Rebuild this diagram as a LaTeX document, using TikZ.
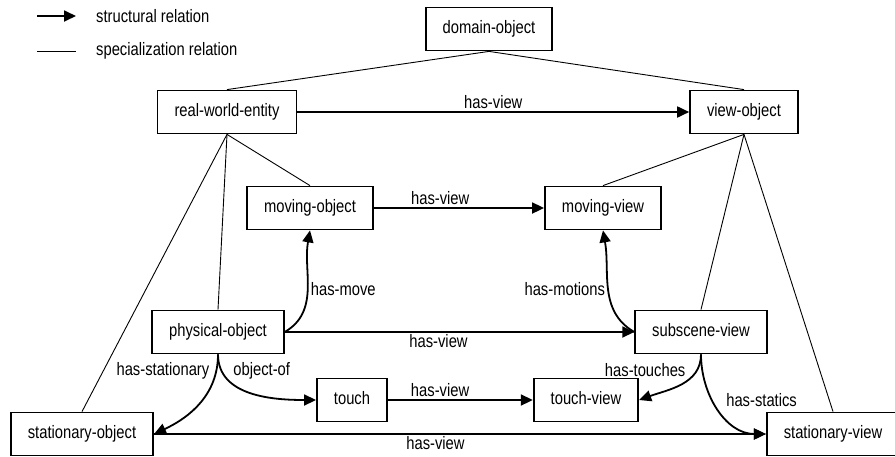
\documentclass[tikz,border=0pt]{standalone}
\usepackage{fontspec}
\setmainfont{Liberation Sans}[FakeStretch=0.82]
\usetikzlibrary{arrows.meta,positioning}

\begin{document}
\begin{tikzpicture}[
    x=1pt, y=1pt,
    font=\fontsize{18}{20}\selectfont,
    >={Triangle[length=12pt,width=11pt]},
    block/.style={
		rectangle,
		draw=black,
		line width=1.8pt,
		inner xsep=17pt,
		text height=13pt,
		text depth=4pt,
		minimum height=43pt,
		fill=white
	},
	spec/.style={
		line width=0.9pt
	},
	struct/.style={
		line width=1.8pt,
		->
	},
	rel/.style={
		inner sep=2pt
	}
  ]
  \useasboundingbox (0,0) rectangle (895,-456);

    % We start by placing the blocks
  \node [block] (domain) at (489,-29) {domain-object};
  \node [block] (rwe) at (227,-112) {real-world-entity};
  \node [block] (view) at (744,-112) {view-object};
  \node [block] (moving) at (310,-208) {moving-object};
  \node [block] (movview) at (603,-208) {moving-view};
  \node [block] (physical) at (218,-332) {physical-object};
  \node [block] (subscene) at (701,-332) {subscene-view};
  \node [block] (touch) at (352,-400) {touch};
  \node [block] (touchview) at (586,-400) {touch-view};
  \node [block] (statobj) at (82,-434) {stationary-object};
  \node [block] (statview) at (833,-434) {stationary-view};

  % legend
  \coordinate (keya) at (37,-16);
  \coordinate (keyb) at (76,-16);
  \coordinate (keyc) at (37,-51);
  \coordinate (keyd) at (76,-51);
  \node [rel, anchor=west] (keystruct) at (94,-16) {structural relation};
  \node [rel, anchor=west] (keyspec) at (94,-51) {specialization relation};
  \draw [struct] (keya) -- (keyb);
  \draw [spec] (keyc) -- (keyd);

  % specialization
  \draw [spec] (domain.south) -- (rwe.north);
  \draw [spec] (domain.south) -- (view.north);
  \draw [spec] (rwe.south) -- (moving.north);
  \draw [spec] (rwe.south) -- (physical.north);
  \draw [spec] (rwe.south) -- (statobj.north);
  \draw [spec] (view.south) -- (movview.north);
  \draw [spec] (view.south) -- (subscene.north);
  \draw [spec] (view.south) -- (statview.north);

  % structural relations
  \draw [struct] (rwe) -- node [rel, above] {has-view} (view);
  \draw [struct] (moving) -- node [rel, above, pos=0.39] {has-view} (movview);
  \draw [struct] (physical.east) -- node [rel, below, pos=0.44] {has-view} (subscene.west);
  \draw [struct] (touch) -- node [rel, above, pos=0.36] {has-view} (touchview);
  \draw [struct] (statobj) -- node [rel, below, pos=0.46] {has-view} (statview);

  \draw [struct] (physical.east) to [out=30, in=-100] node [rel, right, pos=0.5] {has-move} (moving.south);
  \draw [struct] (subscene.west) to [out=150, in=-80] node [rel, left, pos=0.5] {has-motions} (movview.south);
  \draw [struct] (physical.south) to [out=-90, in=25] node [rel, left, pos=0.15, xshift=-4pt] {has-stationary} (statobj.east);
  \draw [struct] (physical.south) to [out=-90, in=180] node [rel, right, pos=0.15, xshift=9pt] {object-of} (touch.west);
  \draw [struct] (subscene.south) to [out=-90, in=20] node [rel, left, pos=0.2, xshift=-9pt] {has-touches} (touchview.east);
  \draw [struct] (subscene.south) to [out=-90, in=180] node [rel, above right, pos=0.5, xshift=5pt] {has-statics} (statview.west);

\end{tikzpicture}
\end{document}
